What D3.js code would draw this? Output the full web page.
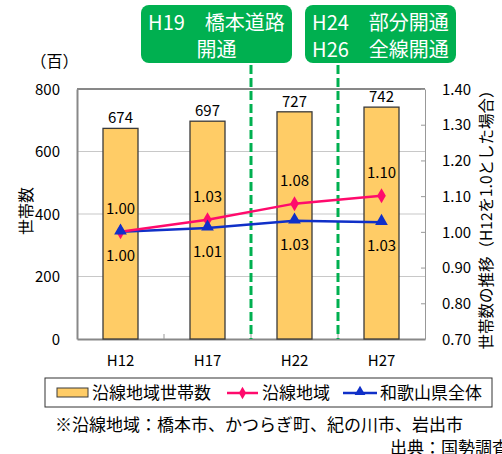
<!DOCTYPE html>
<html><head><meta charset="utf-8">
<script src="https://cdn.jsdelivr.net/npm/d3@7"></script>
<style>body{margin:0;background:#fff}svg{display:block}text{font-family:"Noto Sans CJK JP","Noto Sans",sans-serif;fill:#000}</style>
</head><body>
<svg id="c" width="502" height="454"></svg>
<script>
const categories = ["H12","H17","H22","H27"];
const households = [674, 697, 727, 742];
const ensenRatio = [1.00, 1.034, 1.079, 1.101];
const wakayamaRatio = [1.00, 1.011, 1.031, 1.027];
const leftTicks = [0,200,400,600,800];
const rightTicks = [0.7,0.8,0.9,1.0,1.1,1.2,1.3,1.4];
const seriesNames = ["沿線地域世帯数","沿線地域","和歌山県全体"];
const eventBoxes = [
  {lines:["H19　橋本道路","開通"], between:[1,2]},
  {lines:["H24　部分開通","H26　全線開通"], between:[2,3]}
];

const svg = d3.select("#c");
const L=77,R=425,T=89,B=339;
const x = d3.scaleBand().domain(categories).range([L,R]).padding(0);
const yL = d3.scaleLinear().domain([0,800]).range([B,T]);
const yR = d3.scaleLinear().domain([0.7,1.4]).range([B,T]);
const fmt = d3.format(".2f");
const barW = 35;
const PINK="#ff0a6c", BLUE="#1030c8", BAR="#ffcc66", GREEN="#00b050";

// gridlines
svg.append("g").selectAll("line").data(leftTicks.filter(d=>d>0&&d<800)).join("line")
  .attr("x1",L).attr("x2",R).attr("y1",d=>yL(d)).attr("y2",d=>yL(d))
  .attr("stroke","#c8c8c8").attr("stroke-width",1.2);
// top line
svg.append("line").attr("x1",L).attr("x2",R).attr("y1",T).attr("y2",T).attr("stroke","#111").attr("stroke-width",1);

// left axis
const gL = svg.append("g").attr("transform",`translate(${L},0)`)
  .call(d3.axisLeft(yL).tickValues(leftTicks).tickSize(0).tickPadding(17));
gL.select(".domain").attr("stroke","#888").attr("stroke-width",2);
gL.selectAll("text").style("font-size","15px").attr("dy","0.35em");

// right axis
const gR = svg.append("g").attr("transform",`translate(${R},0)`)
  .call(d3.axisRight(yR).tickValues(rightTicks).tickFormat(fmt).tickSizeInner(-4).tickSizeOuter(0).tickPadding(17));
gR.select(".domain").attr("stroke","#999").attr("stroke-width",1);
gR.selectAll(".tick line").attr("stroke","#999");
gR.selectAll("text").style("font-size","15px").attr("dy","0.35em");

// bottom axis
const gB = svg.append("g").attr("transform",`translate(0,${B})`)
  .call(d3.axisBottom(x).tickSize(0).tickPadding(16));
gB.select(".domain").attr("stroke","#888").attr("stroke-width",2);
gB.selectAll("text").style("font-size","15px");
// category boundary ticks
svg.append("g").selectAll("line").data(categories.slice(1)).join("line")
  .attr("x1",d=>x(d)).attr("x2",d=>x(d)).attr("y1",B).attr("y2",B-5)
  .attr("stroke","#999").attr("stroke-width",1);

// bars
svg.append("g").selectAll("rect").data(households).join("rect")
  .attr("x",(d,i)=>x(categories[i])+x.bandwidth()/2-barW/2)
  .attr("y",d=>yL(d)).attr("width",barW).attr("height",d=>B-yL(d))
  .attr("fill",BAR).attr("stroke","#3a3a3a").attr("stroke-width",1.3);
svg.append("g").selectAll("text").data(households).join("text")
  .attr("x",(d,i)=>x(categories[i])+x.bandwidth()/2).attr("y",d=>yL(d)-5)
  .attr("text-anchor","middle").style("font-size","15px").text(d=>d);

// dashed event lines
eventBoxes.forEach(ev=>{
  const xx = x(categories[ev.between[1]]);
  svg.append("line").attr("x1",xx).attr("x2",xx).attr("y1",65).attr("y2",B)
    .attr("stroke",GREEN).attr("stroke-width",3).attr("stroke-dasharray","9,4");
});

// lines
const cx = i=>x(categories[i])+x.bandwidth()/2;
const line = d3.line().x((d,i)=>cx(i)).y(d=>yR(d));
svg.append("path").datum(wakayamaRatio).attr("d",line).attr("fill","none").attr("stroke",BLUE).attr("stroke-width",2.5);
svg.append("path").datum(ensenRatio).attr("d",line).attr("fill","none").attr("stroke",PINK).attr("stroke-width",2.5);
const tri = d3.symbol().type(d3.symbolTriangle).size(70);
const dia = d3.symbol().type(d3.symbolDiamond).size(65);
svg.append("g").selectAll("path").data(ensenRatio).join("path")
  .attr("transform",(d,i)=>`translate(${cx(i)},${yR(d)})`).attr("d",dia).attr("fill",PINK);
svg.append("g").selectAll("path").data(wakayamaRatio).join("path")
  .attr("transform",(d,i)=>`translate(${cx(i)},${yR(d)-1})`).attr("d",tri).attr("fill",BLUE);
svg.append("g").selectAll("text").data(ensenRatio).join("text")
  .attr("x",(d,i)=>cx(i)).attr("y",d=>yR(d)-23).attr("dy","0.35em")
  .attr("text-anchor","middle").style("font-size","15px").text(d=>fmt(d));
svg.append("g").selectAll("text").data(wakayamaRatio).join("text")
  .attr("x",(d,i)=>cx(i)).attr("y",d=>yR(d)+24).attr("dy","0.35em")
  .attr("text-anchor","middle").style("font-size","15px").text(d=>fmt(d));

// event boxes
const boxX = [141, 305];
eventBoxes.forEach((ev,k)=>{
  svg.append("rect").attr("x",boxX[k]).attr("y",5).attr("width",151).attr("height",58)
    .attr("rx",8).attr("fill",GREEN);
  ev.lines.forEach((t,j)=>{
    svg.append("text").attr("x",boxX[k]+75.5).attr("y",23+j*27).attr("dy","0.35em")
      .attr("text-anchor","middle").style("font-size","20px").style("fill","#fff").text(t);
  });
});

// axis titles
svg.append("text").attr("x",54.5).attr("y",61).attr("dy","0.35em").attr("text-anchor","middle")
  .style("font-size","16px").text("（百）");
svg.append("text").attr("transform","translate(26,211) rotate(-90)").attr("dy","0.35em")
  .attr("text-anchor","middle").style("font-size","16px").text("世帯数");
svg.append("text").attr("transform","translate(487,216) rotate(-90)").attr("dy","0.35em")
  .attr("text-anchor","middle").style("font-size","15.5px").text("世帯数の推移（H12を1.0とした場合）");

// legend
const lg = svg.append("g");
lg.append("rect").attr("x",45).attr("y",378).attr("width",447).attr("height",29)
  .attr("fill","#fff").attr("stroke","#333").attr("stroke-width",1);
const ly = 393;
lg.append("rect").attr("x",57).attr("y",388).attr("width",31).attr("height",9)
  .attr("fill",BAR).attr("stroke","#3a3a3a");
lg.append("line").attr("x1",227).attr("x2",258).attr("y1",ly).attr("y2",ly).attr("stroke",PINK).attr("stroke-width",2.5);
lg.append("path").attr("transform",`translate(242.5,${ly})`).attr("d",d3.symbol().type(d3.symbolDiamond).size(45)).attr("fill",PINK);
lg.append("line").attr("x1",343).attr("x2",377).attr("y1",ly).attr("y2",ly).attr("stroke",BLUE).attr("stroke-width",2.5);
lg.append("path").attr("transform",`translate(360,${ly-1})`).attr("d",d3.symbol().type(d3.symbolTriangle).size(50)).attr("fill",BLUE);
const lx = [92, 262, 380];
seriesNames.forEach((s,i)=>{
  lg.append("text").attr("x",lx[i]).attr("y",ly).attr("dy","0.35em").style("font-size","17px").text(s);
});

// notes
svg.append("text").attr("x",55).attr("y",425).attr("dy","0.35em").style("font-size","17px")
  .text("※沿線地域：橋本市、かつらぎ町、紀の川市、岩出市");
svg.append("text").attr("x",390).attr("y",448).attr("dy","0.35em").style("font-size","17px")
  .text("出典：国勢調査");
</script>
</body></html>
